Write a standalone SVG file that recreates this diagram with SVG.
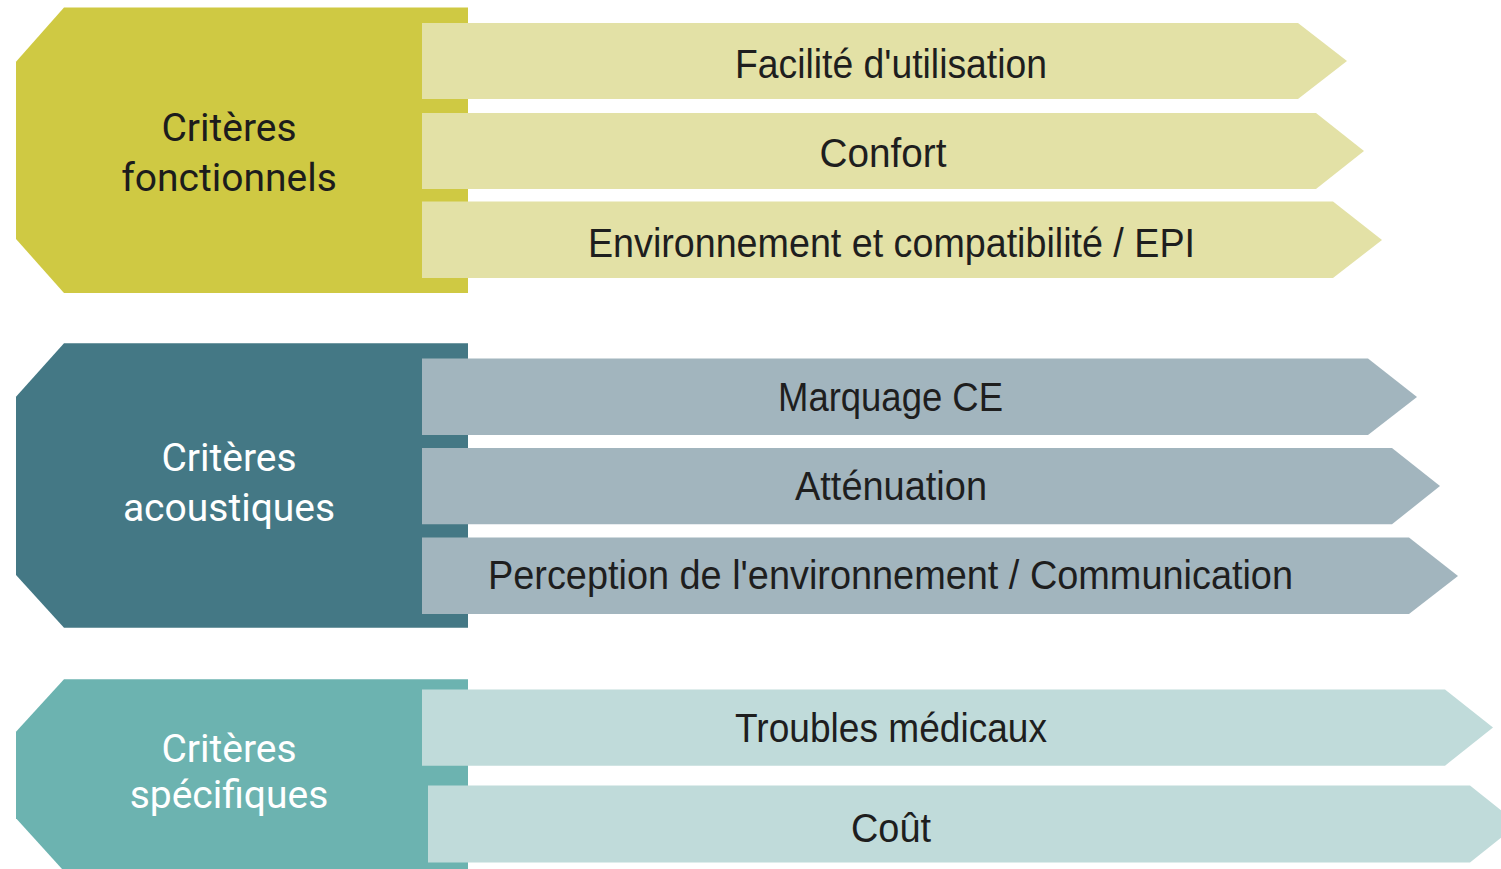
<svg xmlns="http://www.w3.org/2000/svg" width="1501" height="869" viewBox="0 0 1501 869">
  <style>
    .head { font-family: Roboto, "Liberation Sans", sans-serif; font-size: 39px; text-anchor: middle; }
    .head-dark { fill: #1c1c1c; }
    .head-light { fill: #ffffff; }
    .item { font-family: "Liberation Sans", Arial, sans-serif; font-size: 41px; fill: #1e1e1e; text-anchor: middle; }
    .y-main { fill: #cfc943; }
    .y-bar { fill: #e3e1a6; }
    .b-main { fill: #447885; }
    .b-bar { fill: #a2b5be; }
    .t-main { fill: #6cb3b0; }
    .t-bar { fill: #c0dbda; }
  </style>
  <rect width="1501" height="869" fill="#ffffff"/>

  <!-- Functional criteria -->
  <g id="fonctionnels">
    <polygon class="y-main" points="64,7.5 468,7.5 468,293 64,293 16,239 16,61.7"/>
    <text class="head head-dark" x="229" y="141">Critères</text>
    <text class="head head-dark" x="229" y="190.7">fonctionnels</text>
  </g>
  <g id="facilite">
    <polygon class="y-bar" points="422,23 1298,23 1347,61 1298,99 422,99"/>
    <text class="item" x="891" y="78" textLength="312" lengthAdjust="spacingAndGlyphs">Facilité d'utilisation</text>
  </g>
  <g id="confort">
    <polygon class="y-bar" points="422,113 1316,113 1364,151 1316,189 422,189"/>
    <text class="item" x="883" y="167" textLength="127" lengthAdjust="spacingAndGlyphs">Confort</text>
  </g>
  <g id="environnement">
    <polygon class="y-bar" points="422,201.5 1333,201.5 1382,240 1333,278 422,278"/>
    <text class="item" x="891.5" y="257" textLength="607" lengthAdjust="spacingAndGlyphs">Environnement et compatibilité / EPI</text>
  </g>

  <!-- Acoustic criteria -->
  <g id="acoustiques">
    <polygon class="b-main" points="64,343.3 468,343.3 468,627.7 64,627.7 16,575 16,396.7"/>
    <text class="head head-light" x="229" y="471">Critères</text>
    <text class="head head-light" x="229" y="520.7">acoustiques</text>
  </g>
  <g id="marquage">
    <polygon class="b-bar" points="422,358.5 1368,358.5 1417,397 1368,435 422,435"/>
    <text class="item" x="890.5" y="410.7" textLength="225" lengthAdjust="spacingAndGlyphs">Marquage CE</text>
  </g>
  <g id="attenuation">
    <polygon class="b-bar" points="422,448 1392,448 1440,486 1392,524.3 422,524.3"/>
    <text class="item" x="891" y="500" textLength="192" lengthAdjust="spacingAndGlyphs">Atténuation</text>
  </g>
  <g id="perception">
    <polygon class="b-bar" points="422,537.5 1409,537.5 1458,576 1409,614 422,614"/>
    <text class="item" x="890.5" y="589.3" textLength="805" lengthAdjust="spacingAndGlyphs">Perception de l'environnement / Communication</text>
  </g>

  <!-- Specific criteria -->
  <g id="specifiques">
    <polygon class="t-main" points="64,679.3 468,679.3 468,880 72,880 16,818.3 16,731.7"/>
    <text class="head head-light" x="229" y="761.7">Critères</text>
    <text class="head head-light" x="229" y="808.3">spécifiques</text>
  </g>
  <g id="troubles">
    <polygon class="t-bar" points="422,689.5 1445,689.5 1493,727.5 1445,765.7 422,765.7"/>
    <text class="item" x="891" y="741.7" textLength="312" lengthAdjust="spacingAndGlyphs">Troubles médicaux</text>
  </g>
  <g id="cout">
    <polygon class="t-bar" points="428,785.5 1470,785.5 1518,824 1470,862.5 428,862.5"/>
    <text class="item" x="891" y="842" textLength="80" lengthAdjust="spacingAndGlyphs">Coût</text>
  </g>
</svg>
